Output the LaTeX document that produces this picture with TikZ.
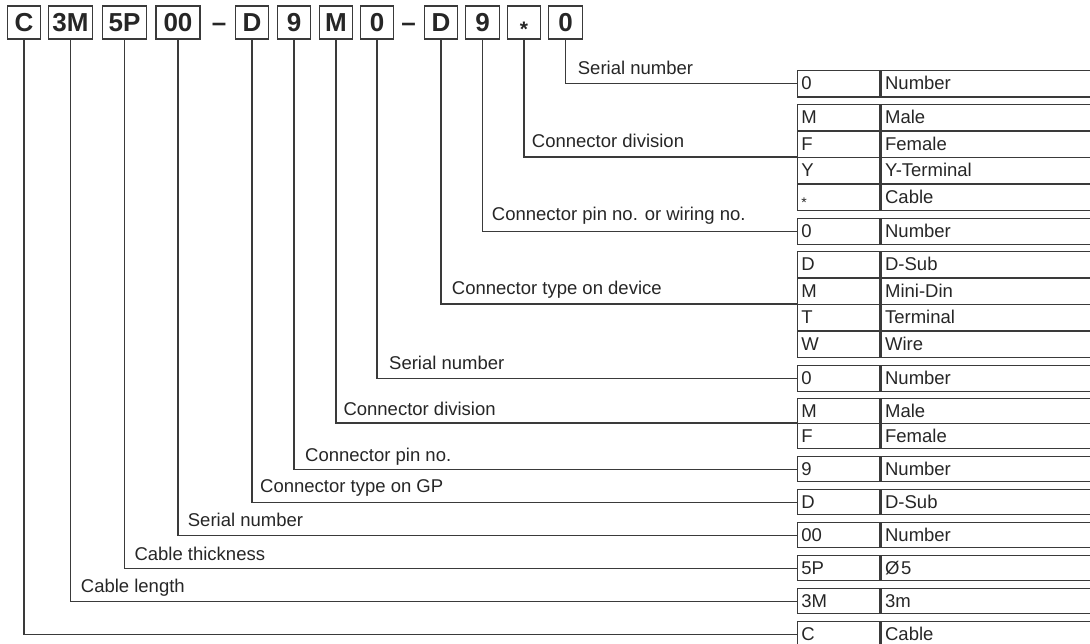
\documentclass[tikz,border=0pt]{standalone}
\usepackage{fontspec}
\setmainfont{Liberation Sans}
\definecolor{ln}{HTML}{3A3A3A}
\definecolor{txt}{HTML}{262626}
\newcommand\trow[5]{%
  \node[ca=#3] (#1a) at (796.7,#2) {#4};
  \node[cb=#3] (#1b) at (#1a.north east) {#5};}
\begin{document}
\begin{tikzpicture}[x=1pt,y=-1pt,
  every node/.style={text=txt},
  hbox/.style={draw=ln, line width=1.2pt, minimum height=33pt, inner sep=0pt,
    text height=18.6pt, text depth=0pt, font=\fontsize{26}{26}\selectfont\bfseries},
  hs/.style={hbox, minimum width=33.5pt},
  hd/.style={hbox, minimum width=44pt},
  dsh/.style={anchor=base, inner sep=0pt, font=\fontsize{26}{26}\selectfont\bfseries},
  conn/.style={draw=ln, line width=1.2pt},
  lbl/.style={anchor=base west, inner sep=0pt, font=\fontsize{18.5}{20}\selectfont},
  cell/.style={draw=ln, line width=1.2pt, anchor=north west, inner xsep=4pt, inner ysep=0pt,
    text height=13pt, text depth=1pt, align=left, font=\fontsize{18.5}{20}\selectfont},
  ca/.style={cell, text width=74.6pt, minimum height=#1},
  cb/.style={cell, text width=202pt, minimum height=#1},
]
\useasboundingbox (0,0) rectangle (1090,644);

% header code boxes
\node[hs] (h1) at (24,22.5) {C};
\node[hd] (h2) at (70.5,22.5) {3M};
\node[hd] (h3) at (124.5,22.5) {5P};
\node[hd] (h4) at (178,22.5) {00};
\node[dsh] (d1) at (219,31.7) {–};
\node[hs] (h5) at (252,22.5) {D};
\node[hs] (h6) at (294,22.5) {9};
\node[hs] (h7) at (336,22.5) {M};
\node[hs] (h8) at (377,22.5) {0};
\node[dsh] (d2) at (408.5,31.7) {–};
\node[hs] (h9) at (441,22.5) {D};
\node[hs] (h10) at (482.5,22.5) {9};
\node[hs] (h11) at (524,22.5) {{\fontsize{21}{21}\selectfont\raisebox{-5pt}{*}}};
\node[hs] (h12) at (565.5,22.5) {0};

% table
\trow{r1}{70}{26.5pt}{0}{Number}
\trow{r2}{104}{26.5pt}{M}{Male}
\trow{r3}{130.5}{26.5pt}{F}{Female}
\trow{r4}{157}{26.5pt}{Y}{Y-Terminal}
\trow{r5}{183.5}{26.5pt}{{\fontsize{14}{14}\selectfont\raisebox{-4.5pt}{*}}}{Cable}
\trow{r6}{218}{25.7pt}{0}{Number}
\trow{r7}{251}{26.5pt}{D}{D-Sub}
\trow{r8}{277.5}{26.5pt}{M}{Mini-Din}
\trow{r9}{304}{26.5pt}{T}{Terminal}
\trow{r10}{330.5}{26.5pt}{W}{Wire}
\trow{r11}{365}{25.7pt}{0}{Number}
\trow{r12}{398}{25pt}{M}{Male}
\trow{r13}{423}{25pt}{F}{Female}
\trow{r14}{456}{25pt}{9}{Number}
\trow{r15}{489}{25pt}{D}{D-Sub}
\trow{r16}{522}{25pt}{00}{Number}
\trow{r17}{555}{25pt}{5P}{Ø\kern1.5pt5}
\trow{r18}{588}{25pt}{3M}{3m}
\trow{r19}{621}{25pt}{C}{Cable}

% connectors
\draw[conn] (h12.south) |- (r1a.west);
\draw[conn] (h11.south) |- (r4a.north west);
\draw[conn] (h10.south) |- (r6a.west);
\draw[conn] (h9.south) |- (r9a.north west);
\draw[conn] (h8.south) |- (r11a.west);
\draw[conn] (h7.south) |- (r13a.north west);
\draw[conn] (h6.south) |- (r14a.west);
\draw[conn] (h5.south) |- (r15a.west);
\draw[conn] (h4.south) |- (r16a.west);
\draw[conn] (h3.south) |- (r17a.west);
\draw[conn] (h2.south) |- (r18a.west);
\draw[conn] (h1.south) |- (r19a.west);

% labels
\node[lbl] (l1) at (577.7,75) {Serial number};
\node[lbl] (l2) at (531.7,148) {Connector division};
\node[lbl] (l3) at (491.7,221) {Connector pin no. or wiring no.};
\node[lbl] (l4) at (451.7,295) {Connector type on device};
\node[lbl] (l5) at (389,369.5) {Serial number};
\node[lbl] (l6) at (343.3,415) {Connector division};
\node[lbl] (l7) at (305,461) {Connector pin no.};
\node[lbl] (l8) at (260,492) {Connector type on GP};
\node[lbl] (l9) at (187.7,526.5) {Serial number};
\node[lbl] (l10) at (134.3,560) {Cable thickness};
\node[lbl] (l11) at (80.7,592) {Cable length};
\end{tikzpicture}
\end{document}
